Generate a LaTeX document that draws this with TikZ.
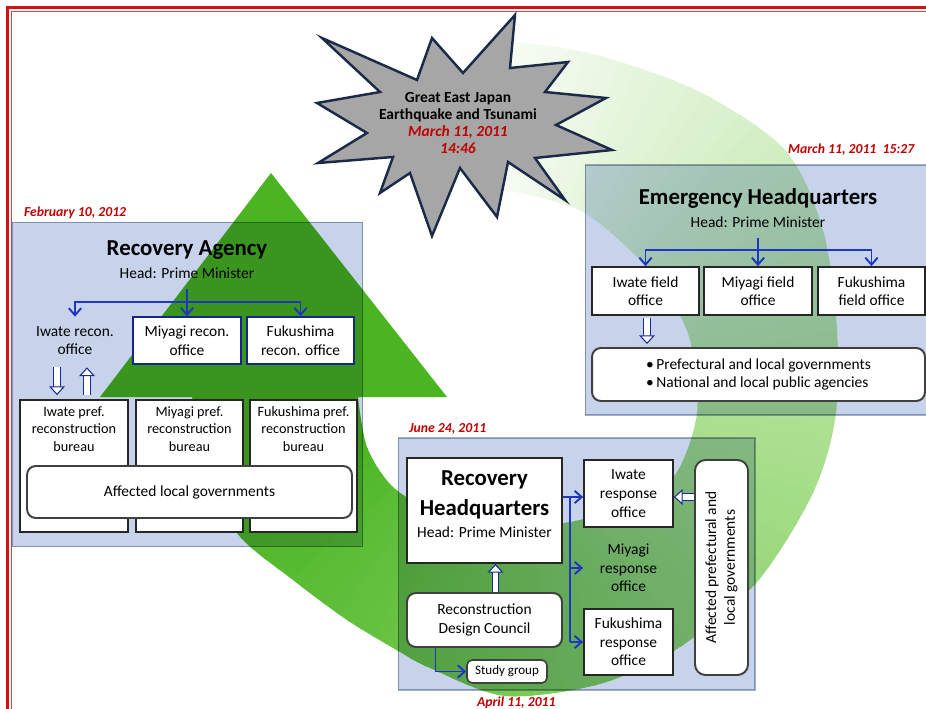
\documentclass[tikz,border=0pt]{standalone}
\usepackage{fontspec}
\setmainfont{Carlito}
\usepackage{tikz}
\usetikzlibrary{arrows.meta, positioning, calc}
\definecolor{framered}  {HTML}{D01414}
\definecolor{panelblue} {HTML}{C6D3EA}
\definecolor{panelline} {HTML}{A3AFC4}
\definecolor{linkblue}  {HTML}{1F35C4}
\definecolor{datered}   {HTML}{C00000}
\definecolor{stargray}  {HTML}{A6A6A6}
\definecolor{starline}  {HTML}{1C2A4A}
\definecolor{ringlight} {HTML}{B0E295}
\definecolor{ringdark}  {HTML}{4AB521}

\begin{document}
\begin{tikzpicture}[
  x=0.02cm, y=-0.02cm,
  every node/.style={font=\fontsize{8.8}{10.6}\selectfont, inner sep=1pt},
  panel/.style={rectangle, draw=panelline, fill=panelblue, line width=0.6pt},
  title/.style={font=\fontsize{13}{15}\selectfont\bfseries},
  date/.style={anchor=west, text=datered,
               font=\fontsize{7.8}{9}\selectfont\bfseries\itshape},
  office/.style={rectangle, draw=black!85, fill=white, line width=1pt, align=center},
  reconbox/.style={office, draw=linkblue!70!black, line width=0.8pt},
  roundbox/.style={office, rounded corners=5pt, draw=black!75, line width=1.1pt},
  bline/.style={linkblue, line width=1.1pt},
  link/.style={bline, -{Straight Barb[length=4pt, width=7pt]}},
  hollow/.style={linkblue!80!black, line width=0.6pt, double=white, double distance=3.2pt,
    -{Triangle[open, fill=white, length=5pt, width=9pt, line width=0.6pt]}}
]
\useasboundingbox (0,0) rectangle (926,709);
\clip (0,0) rectangle (926,709);

% Frame
\draw[framered, line width=1.3pt] (7.5,7.5) rectangle (945,730);
\draw[framered!80, line width=0.6pt] (11.5,11.5) rectangle (940,725);

% Cycle ring
\coordinate (hub) at (500,390);
\begin{scope}
  \clip plot[smooth] coordinates {(462,50) (520,43) (600,56) (700,92) (785,150)
      (823,230) (837,330) (835,420) (812,495) (757,582) (680,647) (600,684)
      (505,696) (430,668) (400,652) (347,620) (293,580) (237,533) (208,465) (192,397)}
    -- plot[smooth] coordinates {(358,397) (367,447) (393,487) (440,515) (500,530)
      (570,522) (630,505) (675,475) (697,413) (690,340) (665,290) (633,253)
      (583,212) (520,193) (462,188)} -- cycle;
  \foreach \a in {-100,-97,...,-1}{
    \pgfmathtruncatemacro\m{\a+100}
    \fill[ringlight!\m!white] (hub) -- +(\a:700) -- +(\a+3.5:700) -- cycle;
  }
  \foreach \a in {0,3,...,186}{
    \pgfmathtruncatemacro\m{max(0,100-\a/1.6)}
    \fill[ringlight!\m!ringdark] (hub) -- +(\a:700) -- +(\a+3.5:700) -- cycle;
  }
\end{scope}
\fill[ringdark] (100,397) -- (271,173) -- (447,397) -- cycle;

% Panels
\begin{scope}[blend mode=multiply]
  \node[panel, minimum width=7.02cm, minimum height=6.5cm] (agencypanel) at (187.5,384.5) {};
  \node[panel, minimum width=7cm, minimum height=5cm] (emergencypanel) at (760,290) {};
  \node[panel, minimum width=7.14cm, minimum height=5.04cm] (hqpanel) at (576.5,564) {};
\end{scope}

% Earthquake
\draw[fill=stargray, draw=starline, line width=1.4pt]
  (322,38) -- (417,80) -- (432,38) -- (463,73) -- (515,15) -- (510,68)
  -- (568,62) -- (545,92) -- (606,98) -- (556,125) -- (612,150) -- (535,158)
  -- (565,200) -- (508,162) -- (497,217) -- (460,168) -- (432,236) -- (410,173)
  -- (380,193) -- (393,157) -- (318,163) -- (367,133) -- (317,103) -- (380,92) -- cycle;
\node[align=center, font=\fontsize{8.8}{9.6}\selectfont\bfseries] (quake) at (458,123)
  {Great East Japan\\Earthquake and Tsunami\\
   {\color{datered}\itshape March 11, 2011}\\{\color{datered}\itshape 14:46}};

% Dates
\node[date] (agencydate) at (22,213) {February 10, 2012};
\node[date] (emergencydate) at (786,150) {March 11, 2011\ \ 15:27};
\node[date] (hqdate) at (407,429) {June 24, 2011};
\node[date] (councildate) at (475,703) {April 11, 2011};

% Recovery Agency
\node[title] (agencytitle) at (187,250) {Recovery Agency};
\node (agencyhead) at (187,273) {Head: Prime Minister};
\node[align=center, minimum height=0.94cm] (iwrecon) at (75,340.5) {Iwate recon.\\office};
\node[reconbox, minimum width=2.16cm, minimum height=0.94cm] (mirecon) at (187,340.5)
  {Miyagi recon.\\office};
\node[reconbox, minimum width=2.14cm, minimum height=0.94cm] (furecon) at (300.5,340.5)
  {Fukushima\\recon. office};
\coordinate (agencysplit) at (187,302);
\draw[bline] ([yshift=-5pt]agencyhead.south) -- (agencysplit);
\draw[link] (agencysplit) -| (iwrecon.north);
\draw[link] (agencysplit) -- (mirecon.north);
\draw[link] (agencysplit) -| (furecon.north);

\node[office, minimum width=2.16cm, minimum height=2.64cm] (iwbureau) at (74,466) {};
\node[office, minimum width=2.14cm, minimum height=2.64cm] (mibureau) at (189.5,466) {};
\node[office, minimum width=2.14cm, minimum height=2.64cm] (fubureau) at (303.5,466) {};
\node[align=center, font=\fontsize{8.1}{9.9}\selectfont, below=3pt of iwbureau.north]
  (iwbureautext) {Iwate pref.\\reconstruction\\bureau};
\node[align=center, font=\fontsize{8.1}{9.9}\selectfont, below=3pt of mibureau.north]
  (mibureautext) {Miyagi pref.\\reconstruction\\bureau};
\node[align=center, font=\fontsize{8.1}{9.9}\selectfont, below=3pt of fubureau.north]
  (fubureautext) {Fukushima pref.\\reconstruction\\bureau};
\node[roundbox, minimum width=6.5cm, minimum height=1.04cm] (affectedlocal) at (189.5,492)
  {Affected local governments};
\draw[hollow] ($(iwrecon.south)+(-18,3)$) -- ($(iwbureau.north)+(-17,-4)$);
\draw[hollow] ($(iwbureau.north)+(13,-4)$) -- ($(iwrecon.south)+(12,3)$);

% Emergency Headquarters
\node[title] (emtitle) at (758,198) {Emergency Headquarters};
\node (emhead) at (758,222) {Head: Prime Minister};
\node[office, minimum width=2.14cm, minimum height=0.96cm] (iwfield) at (645.5,291)
  {Iwate field\\office};
\node[office, minimum width=2.16cm, minimum height=0.96cm] (mifield) at (758,291)
  {Miyagi field\\office};
\node[office, minimum width=2.14cm, minimum height=0.96cm] (fufield) at (871.5,291)
  {Fukushima\\field office};
\coordinate (emsplit) at (758,250);
\draw[bline] ([yshift=-5pt]emhead.south) -- (emsplit);
\draw[link] (emsplit) -| (iwfield.north);
\draw[link] (emsplit) -- (mifield.north);
\draw[link] (emsplit) -| (fufield.north);
\node[roundbox, align=left, minimum width=6.66cm, minimum height=1.06cm] (agencies)
  at (758.5,374.5)
  {•\,Prefectural and local governments\\•\,National and local public agencies};
\draw[hollow] ($(iwfield.south)+(1.5,2)$) -- ($(agencies.north -| iwfield.south)+(1.5,-3)$);

% Recovery Headquarters
\node[office, minimum width=3.1cm, minimum height=2.1cm] (hqbox) at (484.5,510.5) {};
\node[align=center, font=\fontsize{13}{17}\selectfont\bfseries, below=6.5pt of hqbox.north]
  (hqtext) {Recovery\\Headquarters\\[-4.5pt]
  {\fontsize{8.8}{10.6}\selectfont\mdseries Head: Prime Minister}};
\node[roundbox, minimum width=3.1cm, minimum height=1.08cm] (council) at (484.5,620)
  {Reconstruction\\Design Council};
\node[roundbox, line width=0.9pt, rounded corners=3pt, minimum width=1.6cm,
  minimum height=0.46cm, font=\fontsize{7.4}{9}\selectfont] (study) at (507,671.5)
  {Study group};
\draw[link] ($(council.south)+(-49,0)$) |- (study.west);
\draw[hollow] ($(council.north)+(11,0)$) -- ($(hqbox.south)+(11,0)$);

\node[office, minimum width=1.78cm, minimum height=1.34cm] (iwresp) at (628.5,493.5)
  {Iwate\\response\\office};
\node[align=center] (miresp) at (628.5,568) {Miyagi\\response\\office};
\node[office, minimum width=1.78cm, minimum height=1.32cm] (furesp) at (628.5,642)
  {Fukushima\\response\\office};
\coordinate (hqfork) at (570,497);
\draw[bline] (hqfork) -- (hqfork |- furesp.west);
\draw[link] (hqbox.east |- hqfork) -- (iwresp.west |- hqfork);
\draw[link] (hqfork |- miresp.west) -- (iwresp.west |- miresp.west);
\draw[link] (hqfork |- furesp.west) -- (furesp.west);

\node[roundbox, rotate=90, rounded corners=6pt, minimum width=4.3cm, minimum height=1.06cm]
  (affectedpref) at (721.5,567.5) {Affected prefectural and\\local governments};
\draw[hollow] (affectedpref.north |- hqfork) -- (iwresp.east |- hqfork);

\end{tikzpicture}
\end{document}
